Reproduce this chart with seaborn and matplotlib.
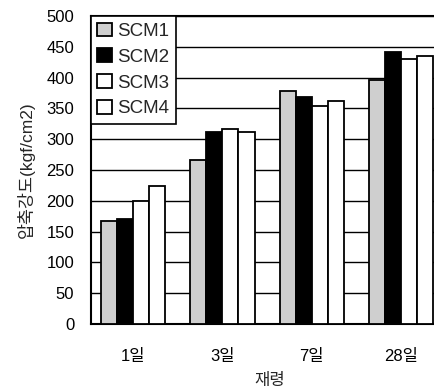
import pandas as pd
import matplotlib
matplotlib.use("Agg")
import matplotlib.pyplot as plt
import seaborn as sns

# values
ages = ["1일", "3일", "7일", "28일"]
series = ["SCM1", "SCM2", "SCM3", "SCM4"]
scm1 = [168, 266, 378, 396]
scm2 = [171, 312, 369, 441]
scm3 = [199, 316, 354, 430]
scm4 = [224, 311, 362, 435]

rows = []
for name, vals in zip(series, [scm1, scm2, scm3, scm4]):
    for age, v in zip(ages, vals):
        rows.append({"age": age, "series": name, "strength": v})
df = pd.DataFrame(rows)

sns.set_style("white")
plt.rcParams["font.family"] = ["Liberation Sans", "Noto Sans CJK KR"]

fig = plt.figure(figsize=(4.35, 3.89), dpi=100)
ax = fig.add_axes([0.209, 0.167, 0.82, 0.792])

palette = {"SCM1": "#cfcfcf", "SCM2": "#000000", "SCM3": "#ffffff", "SCM4": "#ffffff"}
sns.barplot(data=df, x="age", y="strength", hue="series", palette=palette,
            width=0.72, edgecolor="black", linewidth=1.3, saturation=1,
            ax=ax, zorder=3)

ax.set_ylim(0, 500)
ax.set_yticks(range(0, 501, 50))
ax.set_xlim(-0.47, 3.52)
ax.yaxis.grid(True, color="black", linewidth=1.0, zorder=0)
ax.set_axisbelow(True)
for side in ["left", "bottom", "top"]:
    ax.spines[side].set_color("black")
    ax.spines[side].set_linewidth(1.5)
ax.spines["right"].set_visible(False)

ax.tick_params(axis="both", length=0, labelsize=12, colors="black")
ax.tick_params(axis="y", pad=12)
ax.tick_params(axis="x", pad=18)
ax.set_xticks(range(len(ages)))
ax.set_xticklabels(ages, family=["Liberation Sans", "Noto Sans CJK KR"])
ax.set_xlabel("재령", fontsize=12, family=["Noto Sans CJK KR"], labelpad=6)
ax.set_ylabel("압축강도(kgf/cm2)", fontsize=12.5,
              family=["Liberation Sans", "Noto Sans CJK KR"], labelpad=8)

leg = ax.legend(loc="upper left", borderaxespad=0, fontsize=13.5,
                handlelength=0.75, handleheight=0.75, handletextpad=0.3,
                labelspacing=0.45, fancybox=False, framealpha=1,
                edgecolor="black", borderpad=0.35)
leg.get_frame().set_linewidth(1.2)
leg.set_zorder(5)

fig.savefig("out.png", dpi=100)
